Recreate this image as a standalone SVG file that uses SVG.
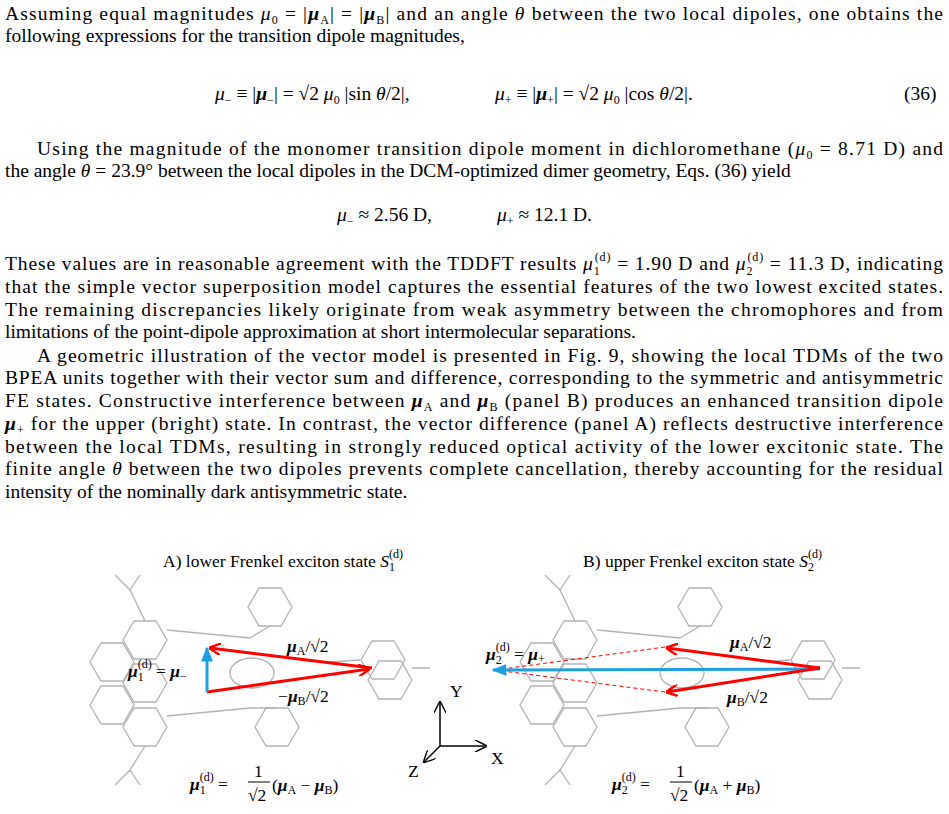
<svg xmlns="http://www.w3.org/2000/svg" width="949" height="814" viewBox="0 0 949 814">
<style>
.t{font-family:"Liberation Serif",serif;font-size:19.5px;fill:#000}
.f{font-family:"Liberation Serif",serif;font-size:17.5px;fill:#000}
.i{font-style:italic}
.b{font-weight:bold;font-style:italic}
.s{font-size:12px}
.m{fill:none;stroke:#b4b4b4;stroke-width:1.3}
.r{stroke:#f00;stroke-width:3;fill:none}
.d{stroke:#f00;stroke-width:1;fill:none;stroke-dasharray:4 3}
.c{stroke:#1ea0e0;stroke-width:3;fill:none}
.k{stroke:#000;stroke-width:1.5;fill:none}
</style>
<defs>
<polygon id="hx" points="22,0 11,19 -11,19 -22,0 -11,-19 11,-19" class="m"/>
<marker id="ar" viewBox="0 0 10 10" refX="9" refY="5" markerWidth="4" markerHeight="4" orient="auto"><path d="M0,0L10,5L0,10" fill="none" stroke="#f00" stroke-width="2"/></marker>
<marker id="ac" viewBox="0 0 10 10" refX="9" refY="5" markerWidth="5" markerHeight="5" orient="auto"><path d="M0,1L10,5L0,9z" fill="#1ea0e0"/></marker>
<marker id="ak" viewBox="0 0 10 10" refX="9" refY="5" markerWidth="8" markerHeight="8" orient="auto"><path d="M0,0L10,5L0,10" fill="none" stroke="#000" stroke-width="1.2"/></marker>
<g id="mol">
<use href="#hx" x="145" y="640"/><use href="#hx" x="145" y="683"/><use href="#hx" x="145" y="727"/>
<use href="#hx" x="112" y="662"/><use href="#hx" x="112" y="705"/>
<use href="#hx" x="270" y="607"/><use href="#hx" x="277" y="727"/>
<ellipse cx="252" cy="673" rx="22" ry="15" class="m"/>
<use href="#hx" x="383" y="660"/><use href="#hx" x="390" y="680"/>
<path class="m" d="M167,630L250,638M167,716L250,708M145,621L130,590L115,575M130,590L140,575M145,746L130,770L115,785M130,770L140,785M360,660L330,662M412,668L430,668M250,638L270,626M250,708L277,708"/>
</g>
</defs>
<g id="text">
<text class="t" x="5" y="20" textLength="938" lengthAdjust="spacing">Assuming equal magnitudes <tspan class="i">μ</tspan><tspan class="s" dy="4">0</tspan><tspan dy="-4"> = |</tspan><tspan class="b">μ</tspan><tspan class="s" dy="4">A</tspan><tspan dy="-4">| = |</tspan><tspan class="b">μ</tspan><tspan class="s" dy="4">B</tspan><tspan dy="-4">| and an angle </tspan><tspan class="i">θ</tspan> between the two local dipoles, one obtains the</text>
<text class="t" x="5" y="42">following expressions for the transition dipole magnitudes,</text>
<text class="t" x="215" y="100"><tspan class="i">μ</tspan><tspan class="s" dy="4">−</tspan><tspan dy="-4"> ≡ |</tspan><tspan class="b">μ</tspan><tspan class="s" dy="4">−</tspan><tspan dy="-4">| = √2 </tspan><tspan class="i">μ</tspan><tspan class="s" dy="4">0</tspan><tspan dy="-4"> |sin </tspan><tspan class="i">θ</tspan>/2|,</text>
<text class="t" x="495" y="100"><tspan class="i">μ</tspan><tspan class="s" dy="4">+</tspan><tspan dy="-4"> ≡ |</tspan><tspan class="b">μ</tspan><tspan class="s" dy="4">+</tspan><tspan dy="-4">| = √2 </tspan><tspan class="i">μ</tspan><tspan class="s" dy="4">0</tspan><tspan dy="-4"> |cos </tspan><tspan class="i">θ</tspan>/2|.</text>
<text class="t" x="904" y="100">(36)</text>
<text class="t" x="37" y="155" textLength="906" lengthAdjust="spacing">Using the magnitude of the monomer transition dipole moment in dichloromethane (<tspan class="i">μ</tspan><tspan class="s" dy="4">0</tspan><tspan dy="-4"> = 8.71 D) and</tspan></text>
<text class="t" x="5" y="177">the angle <tspan class="i">θ</tspan> = 23.9° between the local dipoles in the DCM-optimized dimer geometry, Eqs. (36) yield</text>
<text class="t" x="337" y="221"><tspan class="i">μ</tspan><tspan class="s" dy="4">−</tspan><tspan dy="-4"> ≈ 2.56 D,</tspan></text>
<text class="t" x="497" y="221"><tspan class="i">μ</tspan><tspan class="s" dy="4">+</tspan><tspan dy="-4"> ≈ 12.1 D.</tspan></text>
<text class="t" x="5" y="270" textLength="938" lengthAdjust="spacing">These values are in reasonable agreement with the TDDFT results <tspan class="i">μ</tspan><tspan class="s" dy="5">1</tspan><tspan class="s" dx="-6" dy="-14">(d)</tspan><tspan dy="9"> = 1.90 D and </tspan><tspan class="i">μ</tspan><tspan class="s" dy="5">2</tspan><tspan class="s" dx="-6" dy="-14">(d)</tspan><tspan dy="9"> = 11.3 D, indicating</tspan></text>
<text class="t" x="5" y="293" textLength="938" lengthAdjust="spacing">that the simple vector superposition model captures the essential features of the two lowest excited states.</text>
<text class="t" x="5" y="316" textLength="938" lengthAdjust="spacing">The remaining discrepancies likely originate from weak asymmetry between the chromophores and from</text>
<text class="t" x="5" y="338">limitations of the point-dipole approximation at short intermolecular separations.</text>
<text class="t" x="37" y="362" textLength="906" lengthAdjust="spacing">A geometric illustration of the vector model is presented in Fig. 9, showing the local TDMs of the two</text>
<text class="t" x="5" y="384" textLength="938" lengthAdjust="spacing">BPEA units together with their vector sum and difference, corresponding to the symmetric and antisymmetric</text>
<text class="t" x="5" y="407" textLength="938" lengthAdjust="spacing">FE states. Constructive interference between <tspan class="b">μ</tspan><tspan class="s" dy="4">A</tspan><tspan dy="-4"> and </tspan><tspan class="b">μ</tspan><tspan class="s" dy="4">B</tspan><tspan dy="-4"> (panel B) produces an enhanced transition dipole</tspan></text>
<text class="t" x="5" y="430" textLength="938" lengthAdjust="spacing"><tspan class="b">μ</tspan><tspan class="s" dy="4">+</tspan><tspan dy="-4"> for the upper (bright) state. In contrast, the vector difference (panel A) reflects destructive interference</tspan></text>
<text class="t" x="5" y="453" textLength="938" lengthAdjust="spacing">between the local TDMs, resulting in strongly reduced optical activity of the lower excitonic state. The</text>
<text class="t" x="5" y="475" textLength="938" lengthAdjust="spacing">finite angle <tspan class="i">θ</tspan> between the two dipoles prevents complete cancellation, thereby accounting for the residual</text>
<text class="t" x="5" y="498">intensity of the nominally dark antisymmetric state.</text>
</g>
<g id="molA"><use href="#mol"/></g>
<g id="molB"><use href="#mol" x="430"/></g>
<g id="connectors">
<line class="r" x1="372" y1="668" x2="210" y2="648" marker-end="url(#ar)"/>
<line class="r" x1="207" y1="692" x2="369" y2="669" marker-end="url(#ar)"/>
<line class="c" x1="207" y1="692" x2="207" y2="648" marker-end="url(#ac)"/>
<line class="d" x1="665" y1="647" x2="495" y2="670"/>
<line class="d" x1="665" y1="692" x2="495" y2="670"/>
<line class="c" x1="820" y1="669" x2="493" y2="670" marker-end="url(#ac)"/>
<line class="r" x1="820" y1="668" x2="667" y2="648" marker-end="url(#ar)"/>
<line class="r" x1="820" y1="668" x2="667" y2="692" marker-end="url(#ar)"/>
<line class="k" x1="440" y1="746" x2="440" y2="702" marker-end="url(#ak)"/>
<line class="k" x1="440" y1="746" x2="486" y2="746" marker-end="url(#ak)"/>
<line class="k" x1="440" y1="746" x2="424" y2="762" marker-end="url(#ak)"/>
</g>
<g id="labels">
<text class="f" x="163" y="567">A) lower Frenkel exciton state <tspan class="i">S</tspan><tspan class="s" dy="4">1</tspan><tspan class="s" dy="-13" dx="-6">(d)</tspan></text>
<text class="f" x="583" y="567">B) upper Frenkel exciton state <tspan class="i">S</tspan><tspan class="s" dy="4">2</tspan><tspan class="s" dy="-13" dx="-6">(d)</tspan></text>
<text class="f" x="287" y="652"><tspan class="b">μ</tspan><tspan class="s" dy="3">A</tspan><tspan dy="-3">/√2</tspan></text>
<text class="f" x="278" y="702">−<tspan class="b">μ</tspan><tspan class="s" dy="3">B</tspan><tspan dy="-3">/√2</tspan></text>
<text class="f" x="128" y="677"><tspan class="b">μ</tspan><tspan class="s" dy="4">1</tspan><tspan class="s" dy="-13" dx="-6">(d)</tspan><tspan dy="9"> = </tspan><tspan class="b">μ</tspan><tspan class="s" dy="3">−</tspan></text>
<text class="f" x="730" y="648"><tspan class="b">μ</tspan><tspan class="s" dy="3">A</tspan><tspan dy="-3">/√2</tspan></text>
<text class="f" x="727" y="703"><tspan class="b">μ</tspan><tspan class="s" dy="3">B</tspan><tspan dy="-3">/√2</tspan></text>
<text class="f" x="486" y="660"><tspan class="b">μ</tspan><tspan class="s" dy="4">2</tspan><tspan class="s" dy="-13" dx="-6">(d)</tspan><tspan dy="9"> = </tspan><tspan class="b">μ</tspan><tspan class="s" dy="3">+</tspan></text>
<text class="f" x="450" y="697">Y</text><text class="f" x="491" y="764">X</text><text class="f" x="408" y="777">Z</text>
<text class="f" x="190" y="790"><tspan class="b">μ</tspan><tspan class="s" dy="4">1</tspan><tspan class="s" dy="-13" dx="-6">(d)</tspan><tspan dy="9"> = </tspan></text>
<text class="f" x="254" y="777">1</text><line x1="248" y1="782" x2="270" y2="782" stroke="#000"/><text class="f" x="248" y="801">√2</text>
<text class="f" x="272" y="791">(<tspan class="b">μ</tspan><tspan class="s" dy="3">A</tspan><tspan dy="-3"> − </tspan><tspan class="b">μ</tspan><tspan class="s" dy="3">B</tspan><tspan dy="-3">)</tspan></text>
<text class="f" x="612" y="790"><tspan class="b">μ</tspan><tspan class="s" dy="4">2</tspan><tspan class="s" dy="-13" dx="-6">(d)</tspan><tspan dy="9"> = </tspan></text>
<text class="f" x="676" y="777">1</text><line x1="670" y1="782" x2="692" y2="782" stroke="#000"/><text class="f" x="670" y="801">√2</text>
<text class="f" x="694" y="791">(<tspan class="b">μ</tspan><tspan class="s" dy="3">A</tspan><tspan dy="-3"> + </tspan><tspan class="b">μ</tspan><tspan class="s" dy="3">B</tspan><tspan dy="-3">)</tspan></text>
</g>
</svg>
